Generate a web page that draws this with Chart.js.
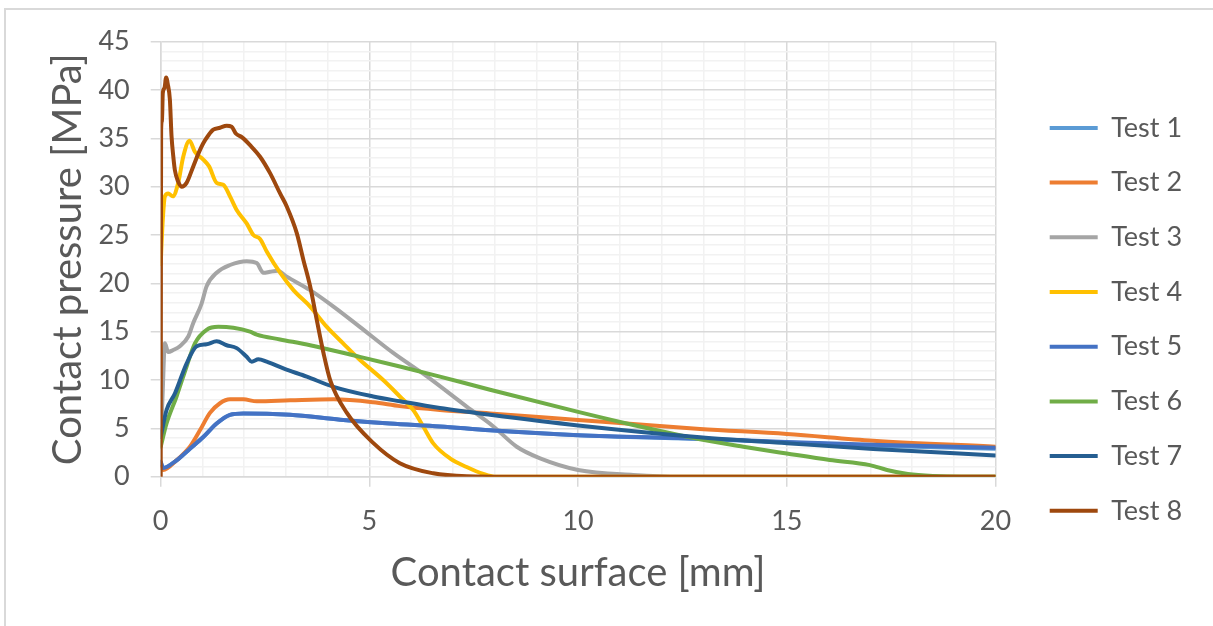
<!DOCTYPE html>
<html>
<head>
<meta charset="utf-8">
<title>Contact pressure</title>
<script src="https://cdn.jsdelivr.net/npm/chart.js@4.4.0/dist/chart.umd.min.js"></script>
<style>
    body { margin: 0; background: #fff; }
    #wrap { position: relative; width: 1213px; height: 626px; overflow: hidden; }
    #frame { position: absolute; left: 4px; top: 8px; width: 1300px; height: 700px;
             border-top: 2px solid #d9d9d9; border-left: 2px solid #d9d9d9; }
    #chart { position: absolute; left: 0; top: 0; }
</style>
</head>
<body>
<div id="wrap">
    <div id="frame"></div>
    <canvas id="chart" width="1213" height="626"></canvas>
</div>
<script>
// series names and colours
var testNames = ['Test 1', 'Test 2', 'Test 3', 'Test 4', 'Test 5', 'Test 6', 'Test 7', 'Test 8'];
var testColors = ['#5b9bd5', '#ed7d31', '#a5a5a5', '#ffc000', '#4472c4', '#70ad47', '#255e91', '#9e480e'];

// contact surface [mm] / contact pressure [MPa]
var test1X = [0, 0.06, 0.38, 0.7, 1.02, 1.34, 1.66, 1.98, 3.1, 4.3, 5.49, 6.69, 7.89, 10, 12.92, 15, 17.07, 20];
var test1Y = [1.5, 0.9, 1.7, 2.9, 4.1, 5.5, 6.4, 6.55, 6.4, 5.9, 5.5, 5.2, 4.8, 4.3, 3.9, 3.55, 3.2, 2.9];

var test2X = [0, 0.06, 0.38, 0.7, 0.94, 1.18, 1.42, 1.66, 1.98, 2.3, 3.1, 4.14, 5.09, 5.73, 6.69, 7.89, 10, 12.92, 15, 17.07, 20];
var test2Y = [1.0, 0.7, 1.7, 3.1, 4.8, 6.6, 7.6, 8.0, 8.0, 7.8, 7.9, 8.0, 7.7, 7.3, 6.9, 6.55, 5.87, 4.94, 4.42, 3.73, 3.1];

var test3X = [0, 0.05, 0.1, 0.18, 0.3, 0.46, 0.66, 0.78, 0.98, 1.1, 1.34, 1.66, 2.06, 2.3, 2.46, 2.62, 2.8, 3.02, 3.58, 4.14, 4.77, 5.57, 6.37, 7.33, 7.97, 8.53, 9.09, 10, 11.32, 12.5, 15, 20];
var test3Y = [3.2, 9, 13.8, 12.9, 13.1, 13.5, 14.5, 15.9, 17.9, 19.7, 21.1, 21.9, 22.3, 22.1, 21.1, 21.2, 21.3, 20.7, 19.3, 17.6, 15.5, 12.8, 10.4, 7.25, 5.2, 3.1, 1.9, 0.7, 0.18, 0, 0, 0];

var test4X = [0, 0.02, 0.05, 0.1, 0.18, 0.29, 0.42, 0.54, 0.69, 0.82, 1.02, 1.16, 1.34, 1.5, 1.66, 1.82, 2.06, 2.22, 2.38, 2.54, 2.86, 3.18, 3.58, 3.98, 4.37, 4.77, 5.33, 5.73, 6.05, 6.29, 6.53, 6.93, 7.33, 7.73, 8.0, 10, 15, 20];
var test4Y = [22, 24, 26.6, 29, 29.3, 29.0, 30.4, 33.1, 34.75, 33.6, 32.8, 32.1, 30.4, 30.2, 29.0, 27.6, 26.2, 25.0, 24.6, 23.3, 21.1, 19.3, 17.6, 15.5, 13.8, 12.1, 10.0, 8.3, 6.9, 5.2, 3.45, 1.9, 1.0, 0.28, 0, 0, 0, 0];

var test5X = [0, 0.06, 0.38, 0.7, 1.02, 1.34, 1.66, 1.98, 3.1, 4.3, 5.49, 6.69, 7.89, 10, 12.92, 15, 17.07, 20];
var test5Y = [1.55, 0.9, 1.7, 2.9, 4.1, 5.5, 6.4, 6.55, 6.4, 5.9, 5.5, 5.2, 4.8, 4.3, 3.95, 3.6, 3.3, 3.0];

var test6X = [0, 0.14, 0.38, 0.62, 0.82, 1.1, 1.38, 1.74, 2.14, 2.3, 2.86, 3.58, 4.77, 5.73, 6.69, 7.89, 10, 11.32, 12.92, 13.96, 15, 16.03, 16.99, 17.4, 17.9, 18.5, 19.2, 20];
var test6Y = [3.1, 5.5, 8.3, 11.4, 13.8, 15.2, 15.5, 15.4, 15.0, 14.7, 14.2, 13.6, 12.4, 11.4, 10.35, 9.0, 6.7, 5.35, 3.87, 3.1, 2.4, 1.73, 1.2, 0.7, 0.28, 0.07, 0, 0];

var test7X = [0, 0.14, 0.34, 0.62, 0.86, 1.1, 1.34, 1.58, 1.82, 2.06, 2.18, 2.34, 2.54, 2.94, 3.5, 4.14, 5.09, 5.73, 6.69, 7.89, 10, 12.92, 15, 17.07, 20];
var test7Y = [4.1, 6.9, 8.6, 11.7, 13.5, 13.7, 14.0, 13.6, 13.3, 12.4, 11.9, 12.15, 11.9, 11.2, 10.35, 9.3, 8.3, 7.8, 7.1, 6.4, 5.3, 4.08, 3.46, 2.87, 2.2];

var test8X = [0, 0.005, 0.01, 0.03, 0.05, 0.09, 0.13, 0.17, 0.22, 0.26, 0.3, 0.34, 0.42, 0.5, 0.62, 0.78, 0.9, 1.02, 1.14, 1.26, 1.42, 1.58, 1.7, 1.8, 1.95, 2.14, 2.38, 2.62, 2.86, 3.02, 3.26, 3.42, 3.58, 3.74, 3.9, 4.06, 4.46, 5.09, 5.73, 6.53, 7.33, 8.5, 12, 16, 20];
var test8Y = [0, 20, 35.9, 36.8, 39.7, 40.2, 41.3, 40.6, 39, 35.2, 33.2, 31.7, 30.5, 30.0, 30.4, 32.1, 33.4, 34.5, 35.3, 35.9, 36.1, 36.3, 36.2, 35.5, 35.1, 34.3, 33.1, 31.4, 29.3, 27.95, 25.2, 22.4, 19.7, 16.2, 12.8, 10.0, 6.6, 3.5, 1.4, 0.35, 0.05, 0, 0, 0, 0];

var xTicksMax = 20;
var yTicksMax = 45;

var allX = [test1X, test2X, test3X, test4X, test5X, test6X, test7X, test8X];
var allY = [test1Y, test2Y, test3Y, test4Y, test5Y, test6Y, test7Y, test8Y];

var textGrey = '#595959';
var majorGrid = '#d9d9d9';
var minorGrid = '#f2f2f2';

// legend geometry: line sample 48px, text 27px Lato, items 54.7px apart
var legendFont = 27;
var legendPad = 27.7;
var legendLine = 48;
var legendLeft = 1022;   // left edge of the legend box
var plotRight = 995.5;   // right edge of the plot area

var measure = document.createElement('canvas').getContext('2d');
measure.font = 'normal ' + legendFont + 'px Lato';
var widestLabel = Math.max.apply(null, testNames.map(function (t) { return measure.measureText(t).width; }));
var legendWidth = legendPad + legendLine + legendFont / 2 + widestLabel + 10;
var rightPad = Math.max(0, 1213 - legendLeft - legendWidth);

function toPoints(xs, ys) {
    return xs.map(function (x, i) { return {x: x, y: ys[i]}; });
}

var datasets = testNames.map(function (name, i) {
    return {
        label: name,
        data: toPoints(allX[i], allY[i]),
        borderColor: testColors[i],
        backgroundColor: testColors[i],
        borderWidth: 4,
        borderCapStyle: 'round',
        borderJoinStyle: 'round',
        pointRadius: 0,
        fill: false,
        cubicInterpolationMode: 'monotone',
        yAxisID: 'y',
        order: testNames.length - i   // Test 8 drawn on top, like Excel
    };
});

function gridColor(ctx) {
    if (!ctx.tick) return minorGrid;
    return ctx.tick.value % 5 === 0 ? majorGrid : minorGrid;
}
function tickMarkColor(ctx) {
    if (!ctx.tick) return 'transparent';
    return ctx.tick.value % 5 === 0 ? majorGrid : 'transparent';
}
function majorLabel(v) {
    return v % 5 === 0 ? v : '';
}

var chart = new Chart(document.getElementById('chart'), {
    type: 'line',
    data: { datasets: datasets },
    options: {
        responsive: false,
        animation: false,
        layout: { padding: { left: 0, top: 41.7, right: rightPad, bottom: 29 } },
        plugins: {
            tooltip: { enabled: false },
            legend: {
                position: 'right',
                align: 'center',
                labels: {
                    usePointStyle: true,
                    pointStyle: 'line',
                    pointStyleWidth: legendLine,
                    padding: legendPad,
                    color: textGrey,
                    font: { family: 'Lato', size: legendFont },
                    sort: function (a, b) { return a.datasetIndex - b.datasetIndex; }
                }
            }
        },
        scales: {
            x: {
                type: 'linear',
                min: 0,
                max: xTicksMax,
                afterFit: function (scale) { scale.height = 626 - 29 - 476.7; },
                ticks: {
                    stepSize: 1,
                    autoSkip: false,
                    maxRotation: 0,
                    padding: 18,
                    color: textGrey,
                    font: { family: 'Lato', size: 27 },
                    callback: majorLabel
                },
                grid: { color: gridColor, tickColor: tickMarkColor, lineWidth: 1.5, tickLength: 10 },
                border: { color: majorGrid, width: 1.5 },
                title: {
                    display: true,
                    text: 'Contact surface [mm]',
                    color: textGrey,
                    font: { family: 'Lato', size: 40 },
                    padding: { top: 0, bottom: 0 }
                }
            },
            y: {
                type: 'linear',
                position: 'left',
                min: 0,
                max: yTicksMax,
                afterFit: function (scale) { scale.width = 160.7; },
                ticks: {
                    stepSize: 1,
                    autoSkip: false,
                    padding: 21,
                    color: textGrey,
                    font: { family: 'Lato', size: 27 },
                    callback: majorLabel
                },
                grid: { color: gridColor, tickColor: tickMarkColor, lineWidth: 1.5, tickLength: 10 },
                border: { color: majorGrid, width: 1.5 },
                title: {
                    display: true,
                    text: 'Contact pressure [MPa]',
                    color: textGrey,
                    font: { family: 'Lato', size: 40 },
                    padding: { top: 44, bottom: 0 }
                }
            },
            // empty spacer between plot and legend
            y2: {
                type: 'linear',
                position: 'right',
                display: true,
                afterFit: function (scale) { scale.width = legendLeft - plotRight; },
                ticks: { display: false },
                grid: { display: false },
                border: { display: false }
            }
        }
    }
});
</script>
</body>
</html>
